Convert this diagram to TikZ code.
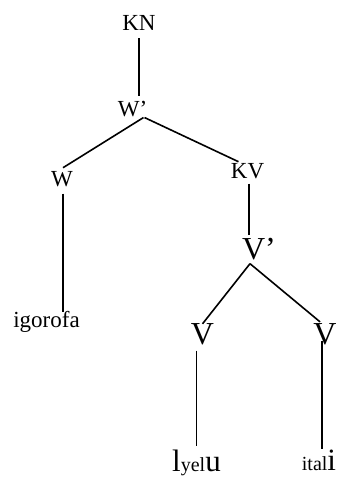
\documentclass[tikz,border=0pt]{standalone}
\usepackage{fontspec}
\setmainfont{Liberation Serif}
\tikzset{
  tag/.style={inner sep=0pt,anchor=base,font=\fontsize{23}{26}\selectfont},
  bigtag/.style={tag,font=\fontsize{32}{36}\selectfont},
  leaftag/.style={tag,font=\fontsize{31}{34}\selectfont},
  branch/.style={line width=1.6pt}
}
\newcommand{\lowtxt}[1]{{\fontsize{20}{22}\selectfont #1}}

\begin{document}
\begin{tikzpicture}[x=1pt,y=1pt]
\useasboundingbox (0,0) rectangle (344,478);
% upper part
\node[tag] (kn) at (139,447) {KN};
\node[tag] (wbar) at (132.5,361) {W'};
\node[tag] (w) at (62,291) {W};
\node[tag] (igorofa) at (46.5,150) {igorofa};
\node[tag] (kv) at (247.5,299) {KV};
% lower part
\node[bigtag] (vbar) at (259,218) {V'};
\node[bigtag] (vl) at (202.5,133) {V};
\node[bigtag] (vr) at (325,133) {V};
\node[leaftag] (lyelu) at (196.5,6) {l\lowtxt{yel}u};
\node[leaftag] (itali) at (319,8) {\lowtxt{ital}i};
% branches
\draw[branch] ([yshift=-7pt]kn.south) -- ([xshift=6.5pt,yshift=5pt]wbar.north);
\draw[branch] ([xshift=11pt]wbar.south) -- ([xshift=1pt,yshift=4pt]w.north);
\draw[branch] ([xshift=12pt]wbar.south) -- ([xshift=-9pt,yshift=2pt]kv.north);
\draw[branch] ([xshift=1pt,yshift=-6pt]w.south) -- ([xshift=16.5pt]igorofa.north);
\draw[branch] ([xshift=1.5pt,yshift=-4pt]kv.south) -- ([xshift=-10pt,yshift=3.5pt]vbar.north);
\draw[branch] ([xshift=-9pt,yshift=-3pt]vbar.south) -- (vl.north);
\draw[branch] ([xshift=-9pt,yshift=-3pt]vbar.south) -- ([xshift=-5pt,yshift=2pt]vr.north);
\draw[branch] ([xshift=-6pt,yshift=-5pt]vl.south) -- ([yshift=4pt]lyelu.north);
\draw[branch] ([xshift=-3pt,yshift=5pt]vr.south) -- ([xshift=3pt]itali.north);
\end{tikzpicture}
\end{document}
